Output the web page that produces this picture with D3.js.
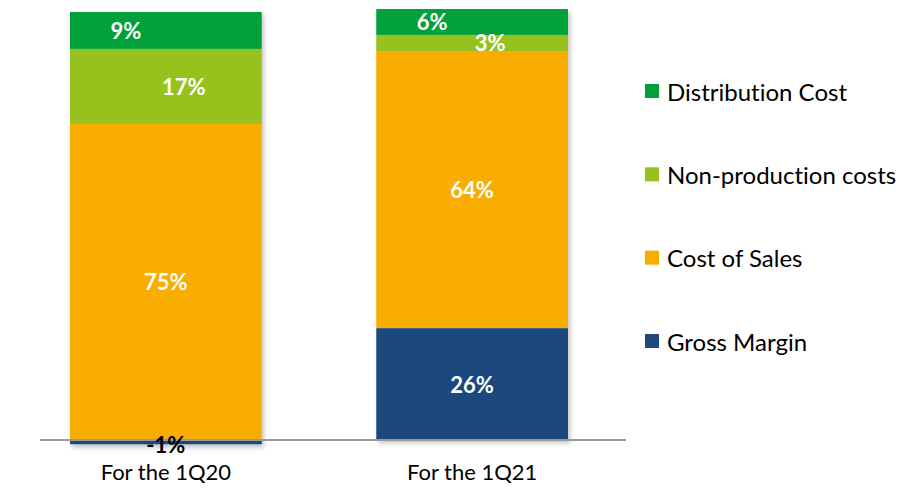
<!DOCTYPE html>
<html>
<head>
<meta charset="utf-8">
<script src="https://cdn.jsdelivr.net/npm/d3@7"></script>
<style>
  html, body { margin: 0; padding: 0; background: #fff; }
  svg { display: block; font-family: Lato, "Open Sans", sans-serif; font-variant-ligatures: none; }
</style>
</head>
<body>
<svg id="chart" width="904" height="488"></svg>
<script>
// ---- data ----
const categories = ["For the 1Q20", "For the 1Q21"];
const seriesNames = ["Gross Margin", "Cost of Sales", "Non-production costs", "Distribution Cost"];
const grossMargin   = [-1, 26.4];
const costOfSales   = [74.6, 65.4];
const nonProduction = [17.7, 3.8];
const distribution  = [8.7, 6.1];
const grossMarginLabels   = ["-1%", "26%"];
const costOfSalesLabels   = ["75%", "64%"];
const nonProductionLabels = ["17%", "3%"];
const distributionLabels  = ["9%", "6%"];
const legendOrder = ["Distribution Cost", "Non-production costs", "Cost of Sales", "Gross Margin"];

// ---- build ----
const valuesBySeries = {
  "Gross Margin": grossMargin,
  "Cost of Sales": costOfSales,
  "Non-production costs": nonProduction,
  "Distribution Cost": distribution
};
const labelsBySeries = {
  "Gross Margin": grossMarginLabels,
  "Cost of Sales": costOfSalesLabels,
  "Non-production costs": nonProductionLabels,
  "Distribution Cost": distributionLabels
};
const colors = {
  "Gross Margin": "#1F497D",
  "Cost of Sales": "#F9AD00",
  "Non-production costs": "#97C11F",
  "Distribution Cost": "#03A03A"
};
// horizontal label offsets from bar centre (style only)
const labelDx = {
  "Gross Margin": 0,
  "Cost of Sales": 0,
  "Non-production costs": 18,
  "Distribution Cost": -40
};

const table = categories.map((c, i) => {
  const row = { category: c };
  seriesNames.forEach(s => row[s] = valuesBySeries[s][i]);
  return row;
});

const stack = d3.stack().keys(seriesNames).offset(d3.stackOffsetDiverging);
const stacked = stack(table);

const svg = d3.select("#chart");

const x = d3.scaleBand().domain(categories).range([70, 568]).paddingInner(0.374).paddingOuter(0);
const y = d3.scaleLinear().domain([0, 101]).range([440, 12]);

// shadow filter
const defs = svg.append("defs");
const f = defs.append("filter").attr("id", "shadow").attr("x", "-10%").attr("y", "-10%").attr("width", "130%").attr("height", "130%");
f.append("feDropShadow").attr("dx", 2).attr("dy", 3).attr("stdDeviation", 2.5).attr("flood-color", "#000").attr("flood-opacity", 0.25);

// bars
const barsG = svg.append("g");
categories.forEach((c, i) => {
  const g = barsG.append("g").attr("filter", "url(#shadow)");
  stacked.forEach(layer => {
    const d = layer[i];
    const y0 = y(Math.max(d[0], d[1]));
    const y1 = y(Math.min(d[0], d[1]));
    g.append("rect")
      .attr("x", x(c))
      .attr("y", y0)
      .attr("width", x.bandwidth())
      .attr("height", Math.max(0, y1 - y0))
      .attr("fill", colors[layer.key]);
  });
});

// axis line
svg.append("line")
  .attr("x1", 40).attr("x2", 626)
  .attr("y1", y(0)).attr("y2", y(0))
  .attr("stroke", "#9A9A9A").attr("stroke-width", 2);

// value labels
const labelsG = svg.append("g");
stacked.forEach(layer => {
  layer.forEach((d, i) => {
    const v = valuesBySeries[layer.key][i];
    const cx = x(categories[i]) + x.bandwidth() / 2 + labelDx[layer.key];
    const neg = v < 0;
    const cy = neg ? y(0) + 4 : (y(d[0]) + y(d[1])) / 2;
    labelsG.append("text")
      .attr("x", cx)
      .attr("y", cy)
      .attr("text-anchor", "middle")
      .attr("dominant-baseline", "central")
      .attr("font-size", 22)
      .attr("font-weight", "bold")
      .attr("fill", neg ? "#000" : "#fff")
      .text(labelsBySeries[layer.key][i]);
  });
});

// category axis
const xAxis = d3.axisBottom(x).tickSize(0).tickPadding(0);
const axG = svg.append("g").attr("transform", `translate(0,${y(0) + 24})`).call(xAxis);
axG.select(".domain").remove();
axG.selectAll("text")
  .attr("font-size", 22)
  .attr("font-family", "Lato, 'Open Sans', sans-serif")
  .attr("fill", "#000");

// legend
const legend = svg.append("g");
const legendY = d3.scalePoint().domain(legendOrder).range([91, 341]);
legendOrder.forEach(name => {
  const g = legend.append("g").attr("transform", `translate(645,${legendY(name)})`);
  g.append("rect").attr("x", 0).attr("y", -7).attr("width", 14).attr("height", 14).attr("fill", colors[name]);
  g.append("text").attr("x", 22).attr("y", 0)
    .attr("dominant-baseline", "central")
    .attr("font-size", 24)
    .attr("fill", "#000")
    .text(name);
});
</script>
</body>
</html>
